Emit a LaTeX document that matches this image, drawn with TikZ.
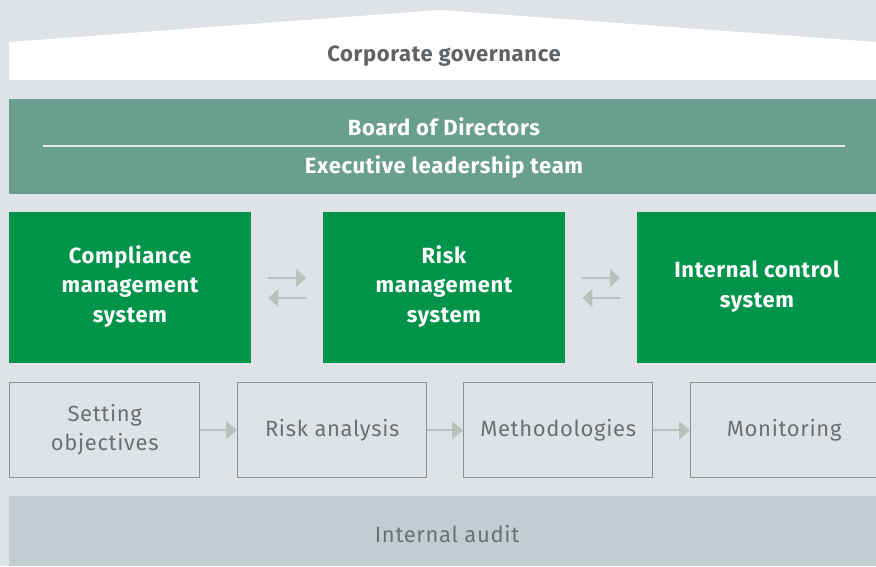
\documentclass[tikz,border=0pt]{standalone}
\usepackage{fontspec}
\setmainfont{Fira Sans}[LetterSpace=3]
\usetikzlibrary{arrows.meta}
\definecolor{bg}{HTML}{DFE3E7}
\definecolor{board}{HTML}{6A9F8F}
\definecolor{grn}{HTML}{00944A}
\definecolor{audit}{HTML}{C2CDD2}
\definecolor{arr}{HTML}{B8C2BB}
\definecolor{boxline}{HTML}{8C9195}
\definecolor{dtext}{HTML}{5F6366}
\definecolor{ltext}{HTML}{6B7075}
\tikzset{
  boldtext/.style={text=white, font=\fontsize{22}{29.5}\selectfont\bfseries, align=center, inner sep=0pt},
  greenbox/.style={fill=grn, anchor=north west, inner sep=0pt, minimum height=151pt},
  stagebox/.style={draw=boxline, line width=1.4pt, fill=bg, text=ltext, font=\fontsize{22}{29}\selectfont, align=center, anchor=north west, inner sep=0pt, minimum height=95pt},
  swap/.style={draw=arr, line width=2pt, -{Triangle[length=10pt,width=18pt]}},
  flow/.style={draw=arr, line width=2pt, -{Triangle[length=11pt,width=18pt]}},
}
\begin{document}
\begin{tikzpicture}[x=1pt,y=-1pt]
\useasboundingbox (0,0) rectangle (876,566);
\fill[bg] (0,0) rectangle (876,566);
% roof
\fill[white] (9,80) -- (9,42) -- (440,10) -- (876,42) -- (876,80) -- cycle;
\node[boldtext, text=dtext, anchor=base] (cg) at (444,61) {Corporate governance};
% board
\node[fill=board, minimum width=867pt, minimum height=95pt, anchor=north west, inner sep=0pt] (board) at (9,99) {};
\draw[draw=white!80!board, line width=1.5pt] ([xshift=34pt]board.west |- 0,146) coordinate (l1) -- ([xshift=-31pt]board.east |- 0,146) coordinate (l2);
\node[boldtext, anchor=base] (bod) at (444,135) {Board of Directors};
\node[boldtext, anchor=base] (elt) at (444,173) {Executive leadership team};
% green boxes
\node[greenbox, minimum width=242pt] (cms) at (9,212) {};
\node[boldtext, anchor=base] (cmst) at (130,322) {Compliance\\management\\system};
\node[greenbox, minimum width=242pt] (rms) at (323,212) {};
\node[boldtext, anchor=base] (rmst) at (444,322) {Risk\\management\\system};
\node[greenbox, minimum width=239pt] (ics) at (637,212) {};
\node[boldtext, anchor=base] (icst) at (757,307) {Internal control\\system};
\draw[swap, shorten <=17pt, shorten >=17pt] (cms.east |- 0,278) -- (rms.west |- 0,278);
\draw[swap, shorten <=17pt, shorten >=17pt] (rms.west |- 0,298) -- (cms.east |- 0,298);
\draw[swap, shorten <=17pt, shorten >=17pt] (rms.east |- 0,278) -- (ics.west |- 0,278);
\draw[swap, shorten <=17pt, shorten >=17pt] (ics.west |- 0,298) -- (rms.east |- 0,298);
% stage boxes
\node[stagebox, minimum width=190pt] (so) at (9,382) {Setting\\objectives};
\node[stagebox, minimum width=189pt] (ra) at (237,382) {Risk analysis};
\node[stagebox, minimum width=189pt] (me) at (463,382) {Methodologies};
\node[stagebox, minimum width=187pt] (mo) at (690,382) {Monitoring};
\draw[flow] (so.east) -- (ra.west);
\draw[flow] (ra.east) -- (me.west);
\draw[flow] (me.east) -- (mo.west);
% audit
\node[fill=audit, minimum width=867pt, minimum height=70pt, anchor=north west, inner sep=0pt] (ia) at (9,496) {};
\node[text=ltext, font=\fontsize{22}{26}\selectfont, anchor=base, inner sep=0pt] (iat) at (447,542) {Internal audit};
\end{tikzpicture}
\end{document}
